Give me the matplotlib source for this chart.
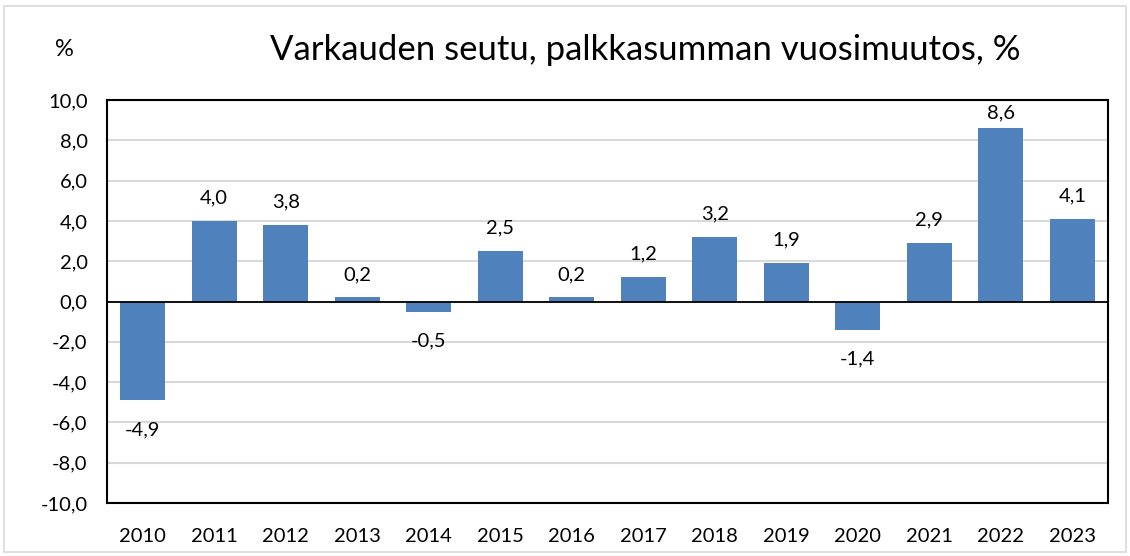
import matplotlib.pyplot as plt
from matplotlib.patches import Rectangle
from matplotlib.ticker import FuncFormatter

years = ['2010', '2011', '2012', '2013', '2014', '2015', '2016',
         '2017', '2018', '2019', '2020', '2021', '2022', '2023']
change = [-4.9, 4.0, 3.8, 0.2, -0.5, 2.5, 0.2, 1.2, 3.2, 1.9, -1.4, 2.9, 8.6, 4.1]

plt.rcParams['font.family'] = ['Lato', 'DejaVu Sans']

fig = plt.figure(figsize=(11.3, 5.56), dpi=100)
ax = fig.add_axes([107 / 1130, 1 - 503 / 556, 1001 / 1130, 403 / 556])

x = range(len(years))
ax.bar(x, change, width=0.63, color='#4F81BD', zorder=3)
ax.set_xlim(-0.5, len(years) - 0.5)
ax.set_ylim(-10, 10)
ax.set_yticks(range(-10, 11, 2))
ax.yaxis.set_major_formatter(FuncFormatter(lambda v, p: '{:.1f}'.format(v).replace('.', ',')))
ax.set_xticks(list(x))
ax.set_xticklabels(years)
ax.tick_params(length=0, labelsize=14.5)
ax.tick_params(axis='x', pad=18)
ax.tick_params(axis='y', pad=14)
ax.grid(axis='y', color='#D9D9D9', linewidth=1.5, zorder=0)
ax.axhline(0, color='black', linewidth=1.3, zorder=4)
for s in ax.spines.values():
    s.set_linewidth(1.5)

for i, v in enumerate(change):
    label = '{:.1f}'.format(v).replace('.', ',')
    if v >= 0:
        # keep labels inside the plot area, like Excel does
        if v > 8:
            ax.text(i, 8.95, label, ha='center', va='bottom', fontsize=14.5)
        else:
            ax.annotate(label, (i, v), xytext=(0, 10.5), textcoords='offset points',
                        ha='center', va='bottom', fontsize=14.5)
    else:
        ax.annotate(label, (i, v), xytext=(0, -15), textcoords='offset points',
                    ha='center', va='top', fontsize=14.5)

fig.text(645 / 1130, 1 - 50 / 556, 'Varkauden seutu, palkkasumman vuosimuutos, %',
         ha='center', va='center', fontsize=25)
fig.text(64 / 1130, 1 - 50 / 556, '%', ha='center', va='center', fontsize=17)

fig.patches.append(Rectangle((4 / 1130, 4 / 556), 1122 / 1130, 546 / 556,
                             transform=fig.transFigure, fill=False,
                             edgecolor='#D9D9D9', linewidth=1.2))

plt.savefig('out.png', dpi=100)
